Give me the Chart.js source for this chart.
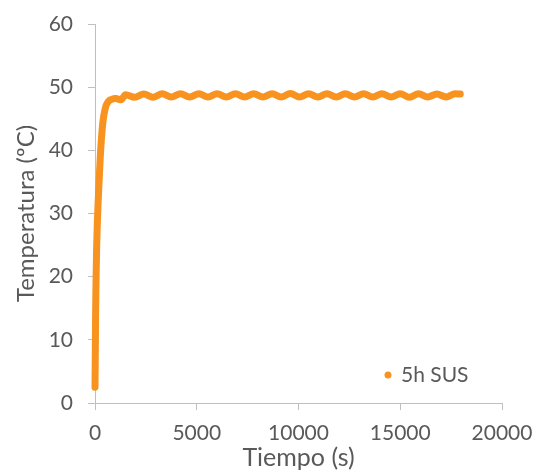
<!DOCTYPE html>
<html>
<head>
<meta charset="utf-8">
<script src="https://cdn.jsdelivr.net/npm/chart.js@4"></script>
<style>
  html, body { margin: 0; padding: 0; background: #ffffff; }
  #wrap { width: 539px; height: 473px; }
</style>
</head>
<body>
<div id="wrap"><canvas id="c" width="539" height="473"></canvas></div>
<script>
// Series "5h SUS": time (s) and temperature (ºC)
const seriesName = "5h SUS";
const timeS = [
  0, 10, 20, 30, 45, 60, 80, 110, 150, 200, 260, 320, 400, 480, 560, 650, 750, 850, 950, 1050, 1150, 1280,
  1500, 1950, 2400, 2850, 3300, 3750, 4200, 4650, 5100, 5550, 6000, 6450, 6900, 7350, 7800, 8250,
  8700, 9150, 9600, 10050, 10500, 10950, 11400, 11850, 12300, 12750, 13200, 13650, 14100, 14550,
  15000, 15450, 15900, 16350, 16800, 17250, 17700, 17950
];
const tempC = [
  2.5, 6, 10, 14, 18, 21, 24.5, 28, 31.5, 35, 39, 42, 44.8, 46.3, 47.2, 47.7, 48.0, 48.1, 48.2, 48.2, 48.1, 48.0,
  48.8, 48.4, 48.9, 48.4, 48.95, 48.45, 48.95, 48.45, 48.95, 48.45, 48.95, 48.45, 48.95, 48.45, 48.95, 48.45,
  48.95, 48.45, 49.0, 48.45, 48.95, 48.45, 48.95, 48.45, 48.95, 48.45, 48.95, 48.45, 48.95, 48.45,
  48.95, 48.4, 48.95, 48.45, 48.9, 48.45, 48.95, 48.9
];
const xTicks = [0, 5000, 10000, 15000, 20000];
const yTicks = [0, 10, 20, 30, 40, 50, 60];

const ORANGE = '#F7931E';
const TEXT = '#595959';
const AXIS = '#BFBFBF';
const FONT = 'Lato, "Open Sans", sans-serif';

const points = timeS.map((t, i) => ({ x: t, y: tempC[i] }));

const legendPlugin = {
  id: 'insideLegend',
  afterDraw(chart) {
    const ctx = chart.ctx;
    const area = chart.chartArea;
    ctx.save();
    const cx = area.right - 114;
    const cy = area.bottom - 28;
    ctx.fillStyle = ORANGE;
    ctx.beginPath();
    ctx.arc(cx, cy, 3.5, 0, Math.PI * 2);
    ctx.fill();
    ctx.fillStyle = TEXT;
    ctx.font = '21px ' + FONT;
    ctx.textAlign = 'left';
    ctx.textBaseline = 'middle';
    ctx.fillText(chart.data.datasets[0].label, cx + 13, cy);
    ctx.restore();
  }
};

new Chart(document.getElementById('c'), {
  type: 'scatter',
  data: {
    datasets: [{
      label: seriesName,
      data: points,
      showLine: true,
      borderColor: ORANGE,
      backgroundColor: ORANGE,
      borderWidth: 7,
      borderCapStyle: 'round',
      borderJoinStyle: 'round',
      cubicInterpolationMode: 'monotone',
      pointRadius: 0,
      clip: false
    }]
  },
  options: {
    responsive: false,
    animation: false,
    layout: { padding: { left: 0, right: 37, top: 24, bottom: 0 } },
    plugins: {
      legend: { display: false },
      tooltip: { enabled: false }
    },
    scales: {
      x: {
        type: 'linear',
        min: 0, max: 20000,
        afterBuildTicks(axis) { axis.ticks = xTicks.map(v => ({ value: v })); },
        afterFit(axis) { axis.height = 70; axis.paddingLeft = 0; axis.paddingRight = 0; },
        grid: { display: true, drawOnChartArea: false, drawTicks: true, tickLength: 7, color: AXIS },
        border: { display: true, color: AXIS, width: 1 },
        ticks: { color: TEXT, font: { family: FONT, size: 21 }, padding: 11, maxRotation: 0, callback: v => String(v) },
        title: { display: true, text: 'Tiempo (s)', color: TEXT, font: { family: FONT, size: 25 }, padding: { top: 0, bottom: 0 } }
      },
      y: {
        type: 'linear',
        min: 0, max: 60,
        afterBuildTicks(axis) { axis.ticks = yTicks.map(v => ({ value: v })); },
        afterFit(axis) { axis.width = 95; axis.paddingTop = 0; axis.paddingBottom = 0; },
        grid: { display: true, drawOnChartArea: false, drawTicks: true, tickLength: 7, color: AXIS },
        border: { display: true, color: AXIS, width: 1 },
        ticks: { color: TEXT, font: { family: FONT, size: 21 }, padding: 15, callback: v => String(v) },
        title: { display: true, text: 'Temperatura (ºC)', color: TEXT, font: { family: FONT, size: 24 }, padding: { top: 12, bottom: 0 } }
      }
    }
  },
  plugins: [legendPlugin]
});
</script>
</body>
</html>
